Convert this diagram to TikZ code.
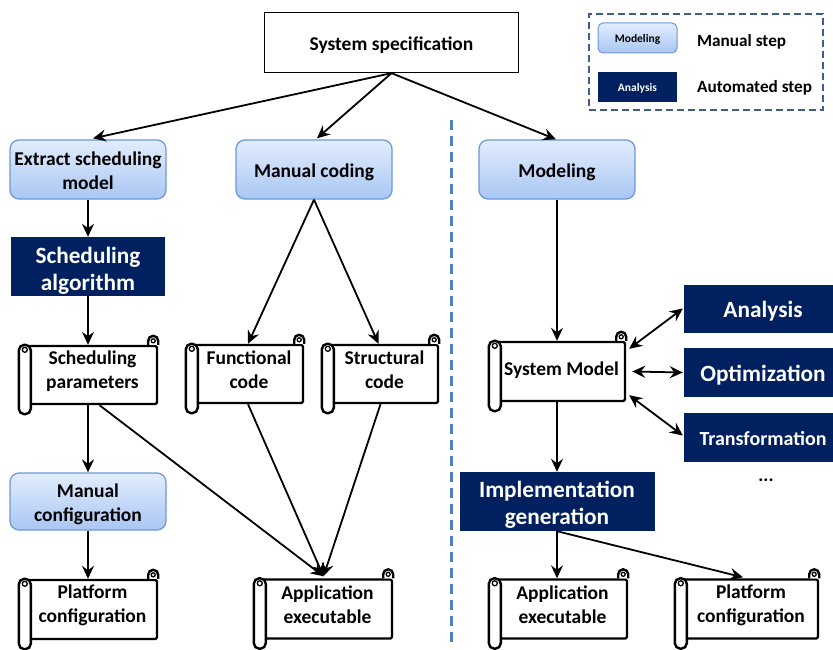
\documentclass[tikz,border=0pt]{standalone}
\usepackage{fontspec}
\setmainfont{Carlito}
\usetikzlibrary{arrows.meta,calc}

\definecolor{navy}{HTML}{002060}
\definecolor{skytop}{HTML}{E2EDFD}
\definecolor{skybot}{HTML}{A9C6F3}
\definecolor{skyedge}{HTML}{6E98D6}
\definecolor{sepblue}{HTML}{5182BF}
\definecolor{legedge}{HTML}{3F5E8C}

\tikzset{
  labelfont/.style={font=\bfseries\fontsize{19.5}{24}\selectfont},
  bigfont/.style={font=\bfseries\fontsize{23.3}{27}\selectfont},
  manualstep/.style={rounded corners=9pt, draw=skyedge, line width=1.3pt,
    top color=skytop, bottom color=skybot, inner sep=0pt},
  autostep/.style={fill=navy, inner sep=0pt},
  specbox/.style={draw, line width=1.3pt, fill=white, inner sep=0pt},
  darktext/.style={align=center, inner sep=0pt, labelfont},
  lighttext/.style={align=center, inner sep=0pt, text=white, bigfont},
  scrollbody/.style={draw, line width=2.4pt, fill=white, rounded corners=1.5pt,
    inner sep=0pt},
  scrolledge/.style={draw, line width=2.4pt, fill=white},
  curl/.style={draw, line width=1.3pt},
  tip/.tip={Stealth[length=13pt,width=12pt,inset=4.5pt]},
  link/.style={line width=1.8pt, -tip},
  twoway/.style={line width=1.8pt, tip-tip},
  plain/.style={align=center, inner sep=0pt, font=\bfseries\fontsize{17.2}{20}\selectfont},
}

% A box with its caption set as a separate node.
% #1 box style, #2 caption style, #3 name, #4 centre x, #5 centre y,
% #6 width, #7 height, #8 caption offset (down), #9 caption
\newcommand\stepbox[9]{%
  \node[#1, minimum width=#6pt, minimum height=#7pt] (#3) at (#4,#5) {};
  \node[#2] (#3-text) at ($(#3.center)+(0,#8)$) {#9};
}

% A scroll: body node plus the rolled left edge and the curl at top right.
% #1 name, #2 centre x, #3 centre y, #4 body width, #5 body height,
% #6 caption offset (down), #7 caption
\newcommand\scrollnode[7]{%
  \node[scrollbody, minimum width=#4pt, minimum height=#5pt] (#1) at (#2,#3) {};
  \path[scrolledge] (#1.north east) -- ++(0,-4)
     arc[start angle=0, end angle=-180, radius=5] -- ++(0,4);
  \path[curl] ($(#1.north east)+(-5,-4)$) circle[radius=2];
  \path[scrolledge, rounded corners=5.5pt]
     ($(#1.north west)+(-6,0)$) rectangle ($(#1.south west)+(6,9)$);
  \path[curl] ($(#1.north west)+(0,5)$) circle[radius=2.5];
  \node[darktext] (#1-text) at ($(#1.center)+(1,#6)$) {#7};
}

\begin{document}
\begin{tikzpicture}[x=1pt, y=-1pt]
\useasboundingbox (0,0) rectangle (833,650);

% separator between the two workflows
\coordinate (septop) at (451,120);
\coordinate (sepbot) at (451,648);
\draw[sepblue, line width=3pt, dash pattern=on 10pt off 6pt] (septop) -- (sepbot);

% legend
\node[draw=legedge, line width=1.5pt, dash pattern=on 7pt off 4pt,
      minimum width=234pt, minimum height=96pt] (legend) at (706,62) {};
\stepbox{manualstep, rounded corners=5pt, line width=1pt}
  {darktext, font=\bfseries\fontsize{11.5}{13}\selectfont}
  {legmanual}{637.5}{38}{79}{30}{1}{Modeling}
\stepbox{autostep}
  {lighttext, font=\bfseries\fontsize{11.5}{13}\selectfont}
  {legauto}{637.5}{87}{79}{30}{1}{Analysis}
\node[plain, anchor=west] (legmanualtxt) at (697,42) {Manual step};
\node[plain, anchor=west] (legautotxt) at (697,88) {Automated step};

% top
\stepbox{specbox}{darktext}{spec}{391.5}{42.5}{254}{60}{3}{System specification}

% left workflow
\stepbox{manualstep}{darktext}{extract}{88}{169.5}{156}{59}{1}{Extract scheduling\\model}
\stepbox{manualstep}{darktext}{mcoding}{314}{169.5}{156}{59}{3}{Manual coding}
\stepbox{autostep}{lighttext}{schedalg}{88}{266.5}{154}{59}{4}{Scheduling\\algorithm}
\scrollnode{spar}{91.5}{375}{131}{58}{-4}{Scheduling\\parameters}
\scrollnode{fcode}{248}{374}{110}{58}{-4}{Functional\\code}
\scrollnode{scode}{383.5}{374}{109}{58}{-4}{Structural\\code}
\stepbox{manualstep}{darktext}{mconf}{88}{501.5}{156}{57}{3}{Manual\\configuration}
\scrollnode{pconf}{91.5}{609.5}{131}{59}{-4}{Platform\\configuration}
\scrollnode{appexe}{326.5}{609}{131}{59}{-4}{Application\\executable}

% right workflow
\stepbox{manualstep}{darktext}{modeling}{557}{169.5}{156}{59}{3}{Modeling}
\scrollnode{sysmodel}{560.5}{371.5}{129}{59}{-1}{System Model}
\stepbox{autostep}{lighttext}{analysis}{763}{308.5}{158}{48}{3}{Analysis}
\stepbox{autostep}{lighttext}{optim}{763}{372.5}{158}{49}{3}{Optimization}
\stepbox{autostep}{lighttext, font=\bfseries\fontsize{20}{24}\selectfont}
  {transf}{763}{437.5}{158}{49}{1}{Transformation}
\node[font=\bfseries\fontsize{19}{22}\selectfont, inner sep=0pt] (more) at (766,480) {...};
\stepbox{autostep}{lighttext}{implgen}{557}{501.5}{195}{59}{3}{Implementation\\generation}
\scrollnode{appexeR}{561.5}{609}{131}{59}{-4}{Application\\executable}
\scrollnode{pconfR}{750}{609}{136}{59}{-4}{Platform\\configuration}

% connectors
\draw[link] (spec.south) -- ($(extract.north)+(5,-1)$);
\draw[link] (spec.south) -- ($(mcoding.north)+(3,-1)$);
\draw[link] (spec.south) -- ($(modeling.north)+(-1,0)$);

\draw[link] (extract.south) -- (extract.south |- schedalg.north);
\draw[link] (schedalg.south) -- (schedalg.south |- spar.north);
\draw[link] (mcoding.south) -- (fcode.north);
\draw[link] (mcoding.south) -- ($(scode.north)+(-5,0)$);
\draw[link] (spar.south -| mconf.north) -- (mconf.north);
\draw[link] ($(spar.south)+(8,0)$) -- ($(appexe.north)+(-3,-2)$);
\draw[link] (fcode.south) -- ($(appexe.north)+(-3,-2)$);
\draw[link] ($(scode.south)+(-3,0)$) -- ($(appexe.north)+(-3,-2)$);
\draw[link] (mconf.south) -- (mconf.south |- pconf.north);

\draw[link] (modeling.south) -- (modeling.south |- sysmodel.north);
\draw[twoway] ($(sysmodel.north east)+(3,8)$) -- ($(analysis.west)+(-1,0)$);
\draw[twoway] ($(sysmodel.east)+(6,0)$) -- ($(optim.west)+(-1,0)$);
\draw[twoway] ($(sysmodel.south east)+(3,-7)$) -- ($(transf.west)+(-1,-2)$);
\draw[link] (implgen.north |- sysmodel.south) -- (implgen.north);
\draw[link] (implgen.south) -- (implgen.south |- appexeR.north);
\draw[link] (implgen.south) -- ($(pconfR.north)+(-7,-1)$);
\end{tikzpicture}
\end{document}
